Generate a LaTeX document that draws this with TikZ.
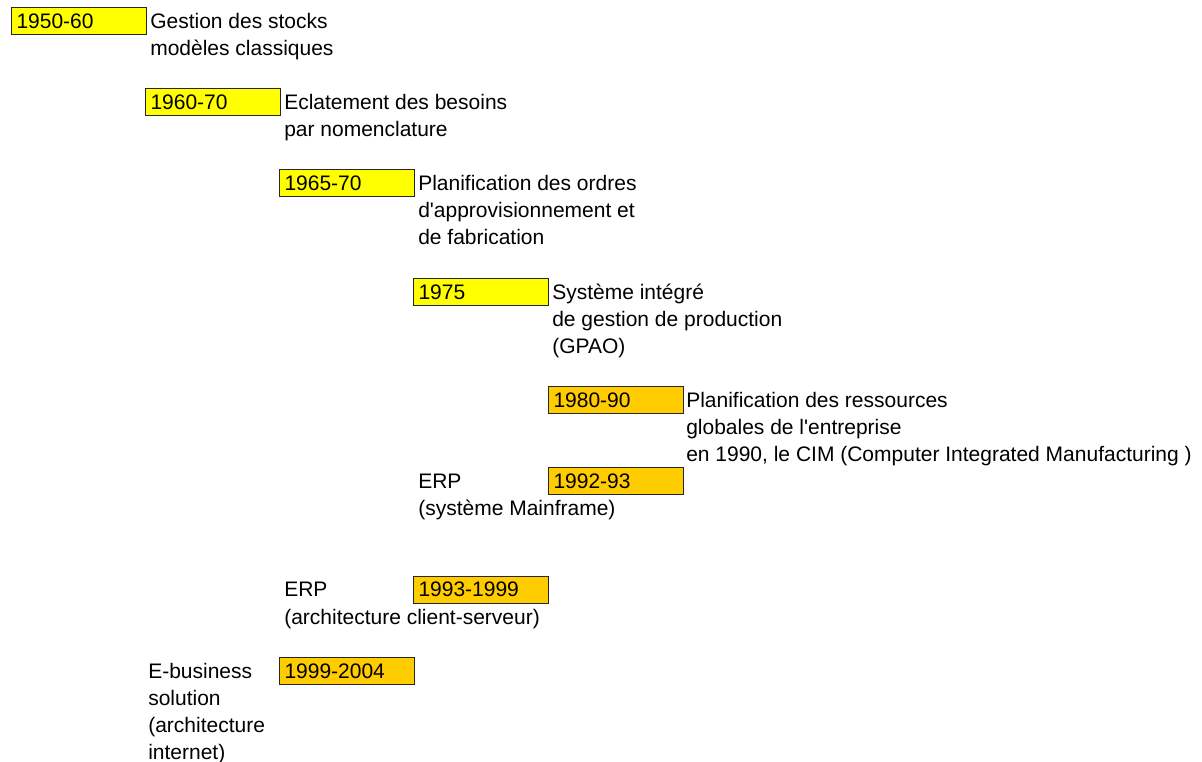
\documentclass[tikz,border=0pt]{standalone}
\usepackage{fontspec}
\setmainfont{Liberation Sans}[Ligatures=TeXOff]
\newcommand\dgmfont{\fontsize{15.75}{20.31}\selectfont}
\newcommand\fl{\rule{0pt}{15.75pt}}
\definecolor{yel}{HTML}{FFFF00}
\definecolor{org}{HTML}{FFCC00}
\tikzset{
  yr/.style={draw=black!85, line width=0.75pt, anchor=north west,
    minimum width=101.25pt, minimum height=20.25pt, inner xsep=3.75pt,
    inner ysep=0pt, text width=93.75pt, align=left, font=\dgmfont},
  yb/.style={yr, fill=yel},
  ob/.style={yr, fill=org},
  lbl/.style={anchor=north west, inner sep=0pt, align=left, font=\dgmfont}
}
\begin{document}
\begin{tikzpicture}[x=0.75pt,y=-0.75pt]
\useasboundingbox (0,0) rectangle (1202,762);
% boxes (top-left corners)
\node[yb] (b1) at (11,{7+27.08*0}) {1950-60};
\node[yb] (b2) at (145,{7+27.08*3}) {1960-70};
\node[yb] (b3) at (279,{7+27.08*6}) {1965-70};
\node[yb] (b4) at (413,{7+27.08*10}) {1975};
\node[ob] (b5) at (548,{7+27.08*14}) {1980-90};
\node[ob] (b6) at (548,{7+27.08*17}) {1992-93};
\node[ob] (b7) at (413,{7+27.08*21}) {1993-1999};
\node[ob] (b8) at (279,{7+27.08*24}) {1999-2004};
% texts (row tops)
\node[lbl] (t1) at (150,{7+27.08*0}) {\fl Gestion des stocks\\modèles classiques};
\node[lbl] (t2) at (284,{7+27.08*3}) {\fl Eclatement des besoins\\par nomenclature};
\node[lbl] (t3) at (418,{7+27.08*6}) {\fl Planification des ordres\\d'approvisionnement et\\de fabrication};
\node[lbl] (t4) at (552,{7+27.08*10}) {\fl Système intégré\\de gestion de production\\(GPAO)};
\node[lbl] (t5) at (686,{7+27.08*14}) {\fl Planification des ressources\\globales de l'entreprise\\en 1990, le CIM (Computer Integrated Manufacturing )};
\node[lbl] (t6) at (418,{7+27.08*17}) {\fl ERP\\(système Mainframe)};
\node[lbl] (t7) at (284,{7+27.08*21}) {\fl ERP\\(architecture client-serveur)};
\node[lbl] (t8) at (148,{7+27.08*24}) {\fl E-business\\solution\\(architecture\\internet)};
\end{tikzpicture}
\end{document}
